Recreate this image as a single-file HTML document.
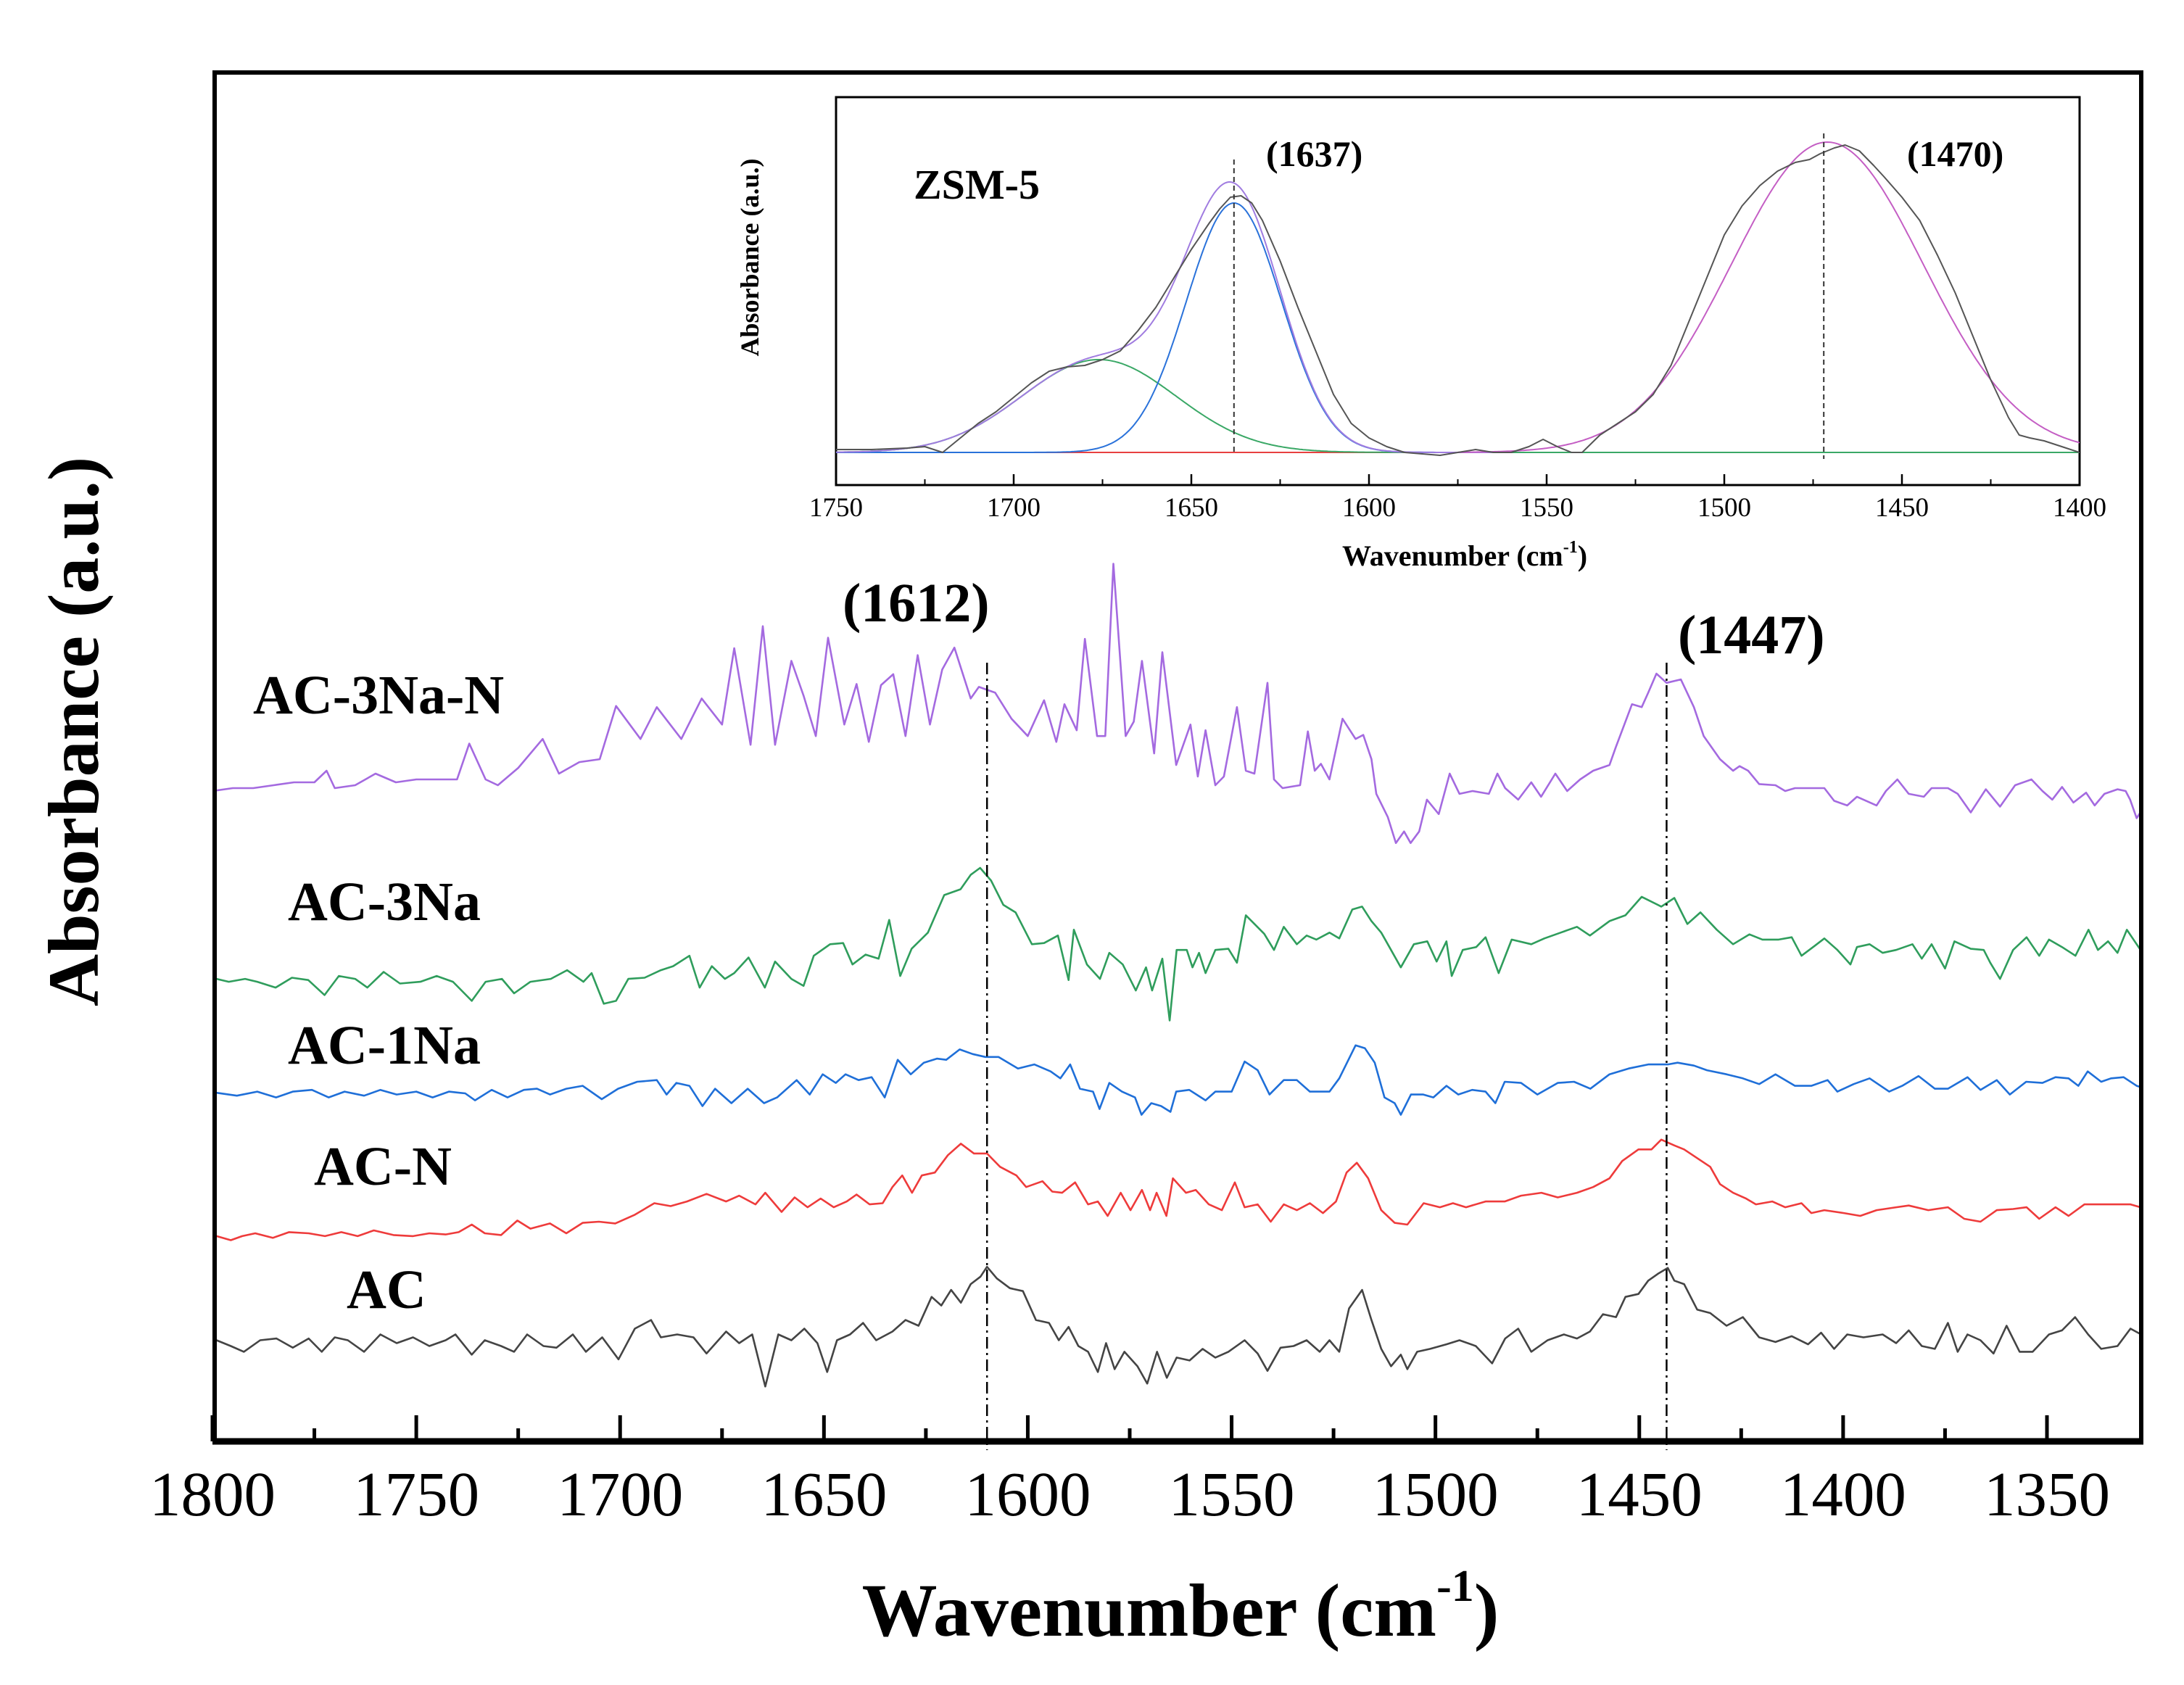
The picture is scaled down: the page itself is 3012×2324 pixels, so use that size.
<!DOCTYPE html>
<html><head><meta charset="utf-8"><style>
html,body{margin:0;padding:0;background:#fff}
svg{display:block}
text{font-family:"Liberation Serif",serif}
</style></head><body>
<svg id="chart" width="3012" height="2324" viewBox="0 0 3012 2324" xmlns="http://www.w3.org/2000/svg">
<rect width="3012" height="2324" fill="#fff"/>
<defs><clipPath id="mainClip"><rect x="296" y="100" width="2657" height="1888"/></clipPath>
<clipPath id="insetClip"><rect x="1153" y="134" width="1715" height="535"/></clipPath></defs>
<g id="main"></g>
<g id="inset"></g>
</svg>
<script>
const NS="http://www.w3.org/2000/svg";
const xTicks=[1800,1750,1700,1650,1600,1550,1500,1450,1400,1350];
const xMinor=[1775,1725,1675,1625,1575,1525,1475,1425,1375];
const peakLines=[1610,1443.3];
const peakLabels=["(1612)","(1447)"];
const seriesNames=["AC-3Na-N","AC-3Na","AC-1Na","AC-N","AC"];
const seriesColors=["#a46ae0","#2f9d5c","#1f6fd8","#ee3b3b","#444444"];
const purpleWn=[1800,1795,1790,1785,1780,1775,1772,1770,1765,1760,1755,1750,1745,1740,1737,1733,1730,1725,1719,1715,1710,1705,1701,1695,1691,1685,1680,1675,1672,1668,1665,1662,1658,1655,1652,1649,1645,1642,1639,1636,1633,1630,1627,1624,1621,1618,1614,1612,1608,1604,1600,1596,1593,1591,1588,1586,1583,1581,1579,1576,1574,1572,1569,1567,
1563.6,1560.1,1558.3,1556.4,1554,1551.9,1548.7,1546.5,1544.4,1541.2,1539.6,1537.5,1533.2,1531.3,1529.6,1528.1,1526,1522.8,1519.6,1517.7,1515.7,1514.5,1511.7,1509.7,1507.7,1506.1,1504,1502.1,1499.2,1496.5,1494.1,1490.9,1486.9,1484.8,1482.9,1479.7,1476.5,1474.1,1470.6,1467.7,1464.5,1461.3,1457.3,1455.8,1451.8,1449.4,1447.8,1445.8,1443.3,1439.8,1436.6,1434.2,1430.2,1427,1425.4,1423.3,1420.6,1416.6,1414.2,1411.8,1407.8,1404.6,1402.2,1399,1396.6,1391.8,1389.5,1386.7,1383.9,1380.2,1378.3,1374.3,1371.9,1368.7,1365,1361.5,1357.8,1353.8,1351.1,1348.7,1346.3,1343.5,1340.4,1338.3,1335.9,1332.7,1330.7,1329.6,1328,1326.4,1325.4];
const purpleVal=[113.5,114,114,114.5,115,115,117,114,114.5,116.5,115,115.5,115.5,115.5,121.7,115.5,114.5,117.5,122.5,116.5,118.5,119,128.2,122.5,128,122.5,129.5,125,138.2,121.5,142,121.5,136,130,123,140,125,132,122,131.8,133.7,123,137,125,134.5,138.3,129.5,131.5,130.5,126,123,129.2,122,128.5,124,139.8,123,123,152.8,123,125.5,136,120,137.5,
118,125,116,124,114.5,116,128,117,116.5,132.2,115.5,114,114.5,123.8,117,118.2,115.5,126,122.5,123.2,119,113,109,104.5,106.5,104.5,106.5,112,109.5,116.5,113,113.5,113,116.5,114,112,115,112.5,116.5,113.5,115.5,117,118,121,128.5,128,130.5,133.8,132.2,132.8,128,123,119,117,117.8,117,114.7,114.5,113.5,114,114,114,111.8,111,112.5,111,113.5,115.5,113,112.5,114,114,113,109.8,113.8,110.8,114.5,115.5,113.5,112,114.2,111.5,113.2,111,113,113.8,113.5,112,108.8,110.5,111.5];
const greenData=[[1799,81],[1796,80.5],[1792,81],[1789,80.5],[1784.5,79.5],[1780.5,81.2],[1776.5,80.8],[1772.5,78.2],[1769,81.5],[1765,81],[1762,79.5],[1758,82.2],[1754,80.2],[1749,80.5],[1745,81.5],[1741,80.5],[1736.4,77.2],[1733,80.5],[1729,81],[1726,78.5],[1722,80.5],[1717,81],[1713,82.5],[1709,80.5],[1707,82],[1704,76.7],[1701,77.2],[1698,81],[1694,81.2],[1690,82.5],[1687,83.2],[1683,85],[1680.5,79.5],[1677.5,83.2],[1674.3,81],[1672,82],[1668.5,84.7],[1664.5,79.5],[1662,84],[1658,81],[1655,79.8],[1652.5,85],[1648.5,87],[1645.3,87.2],[1643,83.5],[1639.8,85.2],[1636.6,84.5],[1634,91.2],[1631.3,81.5],[1628.5,86.2],[1624.5,89],[1620.5,95.5],[1616.5,96.5],[1614,99],[1611.7,100.2],[1609,98],[1606,93.8],[1603,92.5],[1599,87],[1596,87.2],[1592.6,88.5],[1590,80.8],[1588.7,89.5],[1585.5,83.5],[1582.3,81],[1580,85.5],[1576.7,83.5],[1573.5,79],[1571,83],[1569.5,79],[1567,84.5],[1565.2,73.8],[1563.5,86],[1561,86],[1559.6,83],[1558,85.5],[1556.4,82],[1554,86],[1550.8,86.2],[1548.7,83.8],[1546.5,92],[1542,88.8],[1539.6,86],[1537.2,90],[1534,87],[1531.6,88.5],[1529.2,87.8],[1526,89],[1523.6,88],[1520.4,93],[1518,93.5],[1515.7,91],[1513.3,89],[1510.9,86],[1508.5,83],[1505.3,87],[1502,87.5],[1499.7,84],[1497.3,87.5],[1496,81.5],[1493.3,86],[1490,86.5],[1487.7,88.2],[1484.5,82],[1481.3,87.8],[1476.5,87],[1473.3,88],[1469.3,89],[1465.3,90],[1462.1,88.5],[1457.3,91],[1453.4,92],[1449.4,95.2],[1444.6,93.5],[1441.4,95],[1438.2,90.5],[1435,92.5],[1431,89.5],[1427,87],[1423,88.7],[1419.8,87.8],[1415.8,87.8],[1412.6,88.2],[1410.2,85],[1407,86.7],[1404.6,88],[1401.4,86],[1398.2,83.5],[1396.6,86.5],[1393.5,87],[1390.3,85.5],[1387,86],[1383,87],[1380.7,84.5],[1378.3,87],[1375,82.8],[1372.7,87.5],[1368.7,86.2],[1365.5,86],[1363.9,83.8],[1361.5,81],[1358.3,86],[1355,88.2],[1351.9,85],[1349.5,87.8],[1346.3,86.5],[1343,85],[1339.8,89.5],[1337.5,86],[1335,87.5],[1332.7,85.5],[1330.4,89.5],[1328,87],[1325.6,84.5]];
const blueData=[[1799,61.3],[1794,60.8],[1789,61.5],[1784.4,60.5],[1780.3,61.5],[1775.6,61.8],[1771.5,60.5],[1767.6,61.5],[1762.8,60.8],[1758.8,61.8],[1754.8,61],[1750,61.5],[1746,60.5],[1742,61.5],[1738,61.2],[1735.6,60],[1731.5,61.8],[1727.6,60.5],[1723.6,61.8],[1720.4,62],[1717.2,61],[1713.2,62],[1709.2,62.5],[1704.5,60.2],[1700.5,62],[1695.8,63.2],[1691,63.5],[1688.6,61],[1686.2,63],[1683,62.5],[1679.8,59],[1676.7,62],[1672.7,59.5],[1668.7,62],[1664.7,59.5],[1661.5,60.5],[1656.7,63.5],[1653.5,61],[1650.3,64.5],[1647.1,63],[1644.7,64.5],[1641.5,63.5],[1638.3,64],[1635.1,60.5],[1631.9,67],[1628.7,64.5],[1625.5,66.5],[1622.3,67.2],[1620,67],[1616.7,68.8],[1613.5,68],[1610.4,67.5],[1607.2,67.5],[1602.4,65.5],[1598.4,66.2],[1594.4,65],[1592,63.8],[1589.6,66.2],[1587.2,62],[1584,61.5],[1582.4,58.5],[1580,63],[1576.9,61.5],[1573.7,60.5],[1572.1,57.5],[1569.7,59.5],[1567.3,59],[1565,58],[1563.6,61.5],[1560.4,61.8],[1556.4,60],[1554,61.5],[1550,61.5],[1546.8,66.7],[1543.6,65.2],[1540.7,61],[1537.2,63.5],[1534,63.5],[1530.8,61.5],[1526,61.5],[1523.6,63.8],[1519.6,69.5],[1517.3,69],[1514.9,66.5],[1512.5,60.5],[1510,59.5],[1508.5,57.5],[1506,61],[1503,61],[1500.5,60.5],[1497.3,62.5],[1494.4,61],[1491,61.8],[1487.7,61.5],[1485.3,59.5],[1483,63.2],[1479,63],[1475,61],[1470,63],[1466,63.2],[1462,62],[1457.3,64.5],[1452.6,65.5],[1447.8,66.2],[1443,66.2],[1440.6,66.5],[1436.6,66],[1433.4,65.2],[1428.6,64.5],[1424.6,63.8],[1420.6,62.8],[1416.6,64.5],[1411.8,62.5],[1407.8,62.5],[1403.8,63.5],[1401.4,61.5],[1397.4,62.8],[1393.5,63.8],[1388.7,61.5],[1385.5,62.5],[1381.5,64.2],[1377.5,62],[1374.3,62],[1369.5,64],[1366.3,61.8],[1362.3,63.5],[1359.1,61],[1355.1,63.2],[1351.1,63],[1347.9,64],[1344.7,63.8],[1342.3,62.5],[1340,65],[1336.7,63.2],[1334.3,63.8],[1331.2,64],[1328,62.5],[1325.6,62]];
const redData=[[1799,36.5],[1795.5,35.8],[1792.7,36.5],[1789.5,37],[1785.2,36.2],[1781.2,37.2],[1776.4,37],[1772.4,36.5],[1768.4,37.2],[1764.4,36.5],[1760.4,37.5],[1755.6,36.7],[1750.8,36.5],[1746.8,37],[1742.8,36.8],[1739.6,37.2],[1736.4,38.5],[1733.2,37],[1729.2,36.7],[1725.2,39.2],[1722,37.8],[1717.2,38.7],[1713.2,37],[1709.2,38.8],[1705.2,39],[1701.2,38.7],[1696.4,40.2],[1691.6,42.2],[1687.6,41.7],[1683.6,42.5],[1678.8,43.8],[1674,42.5],[1670.8,43.5],[1666.8,42],[1664.4,44],[1660.4,40.7],[1657.2,43.2],[1654,41.5],[1650.8,43],[1647.6,41.5],[1644.4,42.5],[1642,43.7],[1638.8,42],[1635.6,42.2],[1633.2,45],[1630.8,47],[1628.4,44],[1626,47],[1622.8,47.5],[1619.6,50.5],[1616.4,52.5],[1613.2,50.8],[1610,50.8],[1606.8,48.5],[1602.8,47],[1600.4,45],[1596.4,46],[1594,44.2],[1591.6,44],[1588.4,45.8],[1585.2,42],[1582.8,42.5],[1580.4,40],[1577.2,44],[1574.8,41],[1572,44.5],[1570,41],[1568.4,44],[1566,40],[1564.4,46.5],[1561.2,44],[1558.8,44.5],[1555.6,42],[1552.4,41],[1549.2,45.8],[1546.8,41.5],[1543.6,42],[1540.4,39],[1537.2,42],[1534,41],[1530.8,42.2],[1527.6,40.5],[1524.4,42.5],[1521.8,47.5],[1519.3,49.2],[1516.5,46.5],[1513.3,41],[1510,38.8],[1506.9,38.5],[1502.9,42.2],[1498.9,41.5],[1495.7,42.2],[1492.5,41.5],[1487.7,42.5],[1483,42.5],[1479,43.5],[1474,44],[1470,43.2],[1465.3,44],[1461.3,45],[1457.3,46.5],[1454.2,49.5],[1450.2,51.5],[1447,51.5],[1444.6,53.2],[1441.4,52.2],[1439,51.5],[1435.8,50],[1432.6,48.5],[1430.2,45.5],[1427,44],[1423.8,43],[1421.4,42],[1417.4,42.5],[1414.2,41.5],[1410.2,42.2],[1407.8,40.5],[1404.6,41],[1399.8,40.5],[1395.8,40],[1391.8,41],[1387,41.5],[1383.9,41.8],[1379.1,41],[1374.3,41.5],[1370.3,39.5],[1366.3,39],[1362.3,41],[1358.3,41.2],[1355,41.5],[1351.9,39.5],[1347.9,41.5],[1344.7,40],[1340.8,42],[1336.7,42],[1332.7,42],[1329.5,42],[1325.6,41.2]];
const blackData=[[1799,18.5],[1795.5,17.5],[1792.3,16.5],[1788.3,18.5],[1784.3,18.8],[1780.3,17.2],[1776.4,18.8],[1773.2,16.5],[1770,19],[1766.8,18.5],[1762.8,16.5],[1758.8,19.5],[1754.8,18],[1750.8,19],[1746.8,17.5],[1742.8,18.5],[1740.4,19.5],[1736.4,16],[1733.2,18.5],[1729.2,17.5],[1726,16.5],[1722.8,19.5],[1718.8,17.5],[1715.6,17.2],[1711.6,19.5],[1708.4,16.5],[1704.4,19],[1700.4,15.2],[1696.4,20.5],[1692.4,22],[1690,19],[1686,19.5],[1682,19],[1678.8,16.2],[1674,20],[1670.8,18],[1667.6,19.5],[1664.4,10.5],[1661.2,19.5],[1658,18.5],[1654.8,20.5],[1651.6,18],[1649.2,13],[1646.8,18.5],[1643.6,19.5],[1640.4,21.5],[1637.2,18.5],[1633.2,20],[1630,22],[1626.8,21],[1623.6,26],[1621.2,24.5],[1618.8,27.2],[1616.4,25],[1614,28.2],[1611.6,29.5],[1610,31.2],[1607.6,29.2],[1604.4,27.5],[1601.2,27],[1598,22],[1594.8,21.5],[1592.4,18.5],[1590,20.8],[1587.6,17.5],[1585.2,16.5],[1582.8,13],[1580.8,18],[1578.7,13.5],[1576.3,16.5],[1573.1,14],[1570.7,11],[1568.3,16.5],[1565.9,12],[1563.5,15.5],[1560.3,15],[1557.1,17],[1554,15.5],[1550.8,16.5],[1546.8,18.5],[1543.6,16.2],[1541.2,13.2],[1538,17.2],[1534.8,17.5],[1531.6,18.5],[1528.4,16.5],[1526,18.5],[1523.6,16.5],[1521.2,24],[1518,27.2],[1515.7,22],[1513.3,17],[1510.9,14],[1508.5,16],[1506.9,13.5],[1504.5,16.5],[1501.3,17],[1497.3,17.8],[1494.1,18.5],[1490.1,17.5],[1486.1,14.5],[1482.9,18.8],[1479.7,20.5],[1476.5,16.5],[1472.5,18.5],[1468.5,19.5],[1465.3,18.8],[1462.1,20],[1458.9,23],[1455.7,22.5],[1453.4,26],[1450.2,26.5],[1447.8,28.8],[1445.4,30],[1443,31],[1441.4,28.8],[1439,28.2],[1435.8,23.8],[1432.6,23.2],[1428.6,21],[1424.6,22.5],[1420.6,19],[1416.6,18.2],[1412.6,19.2],[1408.6,17.8],[1405.4,19.8],[1402.2,17],[1399,19.5],[1395,19],[1390.3,19.5],[1387,18],[1383.9,20.2],[1380.7,17.5],[1377.5,17],[1374.3,21.5],[1371.9,16.5],[1369.5,19.5],[1366.3,18.5],[1363.1,16.2],[1359.9,21],[1356.7,16.5],[1353.5,16.5],[1349.5,19.5],[1346.3,20.2],[1343.1,22.5],[1339.9,19.5],[1336.7,17],[1332.7,17.5],[1329.5,20.5],[1325.6,19]];
const labelX=[349,397,397,433,478];
const labelY=[984,1269,1467,1634,1804];

// inset data
const insetTicks=[1750,1700,1650,1600,1550,1500,1450,1400];
const insetMinor=[1725,1675,1625,1575,1525,1475,1425];
const compCenters=[1676,1638,1471];
const compAmps=[0.32,0.86,1.07];
const compSigmas=[21.7,13.4,27];
const insetLines=[1638,1472];
const insetRawWn=[1750,1740,1730,1725,1720,1715,1710,1705,1700,1695,1690,1685,1680,1675,1670,1665,1660,1655,1650,1645,1642,1639,1636,1633,1630,1625,1620,1615,1610,1605,1600,1595,1590,1580,1570,1565,1560,1555,1551,1547,1543,1540,1535,1530,1525,1520,1515,1510,1505,1500,1495,1490,1485,1480,1476,1473,1469,1466,1462,1458,1455,1450,1445,1440,1435,1430,1425,1420,1417,1414,1410,1405,1400];
const insetRawVal=[0.01,0.01,0.015,0.02,0.0,0.05,0.1,0.14,0.19,0.24,0.28,0.295,0.3,0.32,0.35,0.42,0.5,0.6,0.7,0.79,0.84,0.88,0.885,0.86,0.8,0.66,0.5,0.35,0.2,0.1,0.05,0.02,0.0,-0.01,0.01,0.0,0.0,0.02,0.045,0.02,0.0,0.0,0.06,0.1,0.14,0.2,0.3,0.45,0.6,0.75,0.85,0.92,0.97,1.0,1.01,1.03,1.05,1.06,1.04,0.99,0.95,0.88,0.8,0.68,0.55,0.4,0.25,0.12,0.06,0.05,0.04,0.02,0.0];

function el(tag,attrs,parent,txt){const e=document.createElementNS(NS,tag);for(const k in attrs)e.setAttribute(k,attrs[k]);if(txt!==undefined)e.textContent=txt;parent.appendChild(e);return e;}
const mx=w=>293+(1800-w)*5.6222;
const my=a=>1996-a*7.974;
const ix=w=>1153+(1750-w)/350*1715;
const iy=v=>624-v*400;

const main=document.getElementById('main');
const sg=el('g',{'clip-path':'url(#mainClip)'},main);


const allSeries=[purpleWn.map((w,i)=>[w,purpleVal[i]]),greenData,blueData,redData,blackData];
allSeries.forEach((d,i)=>{
  const p=el('path',{d:d.map((q,j)=>(j?'L':'M')+mx(q[0]).toFixed(1)+' '+my(q[1]).toFixed(1)).join(''),fill:'none',stroke:seriesColors[i],'stroke-width':2.6,'stroke-linejoin':'round'},sg);
  
  
  const t=el('text',{x:labelX[i],y:labelY[i],'font-size':76,'font-weight':'bold',fill:'#000'},main,seriesNames[i]);
  
  
});
peakLines.forEach((w,i)=>{
  const l=el('line',{x1:mx(w),x2:mx(w),y1:914,y2:2000,stroke:'#000','stroke-width':2.5,'stroke-dasharray':'16,6,3,6'},main);
  
  
});
const pl1=el('text',{x:1162,y:857,'font-size':76,'font-weight':'bold'},main,peakLabels[0]);


const pl2=el('text',{x:2314,y:901,'font-size':76,'font-weight':'bold'},main,peakLabels[1]);


const fr=el('rect',{x:296,y:100,width:2657,height:1888,fill:'none',stroke:'#000','stroke-width':6},main);


const bax=el('line',{x1:293,x2:2956,y1:1988,y2:1988,stroke:'#000','stroke-width':9},main);


xTicks.forEach(w=>{
  const t=el('line',{x1:mx(w),x2:mx(w),y1:1988,y2:1952,stroke:'#000','stroke-width':5},main);
  
  
  const lb=el('text',{x:mx(w),y:2090,'font-size':87,'text-anchor':'middle'},main,String(w));
  
  
});
xMinor.forEach(w=>{
  const t=el('line',{x1:mx(w),x2:mx(w),y1:1988,y2:1970,stroke:'#000','stroke-width':5},main);
  
  
});
const xt=el('text',{x:1628,y:2256,'font-size':104,'font-weight':'bold','text-anchor':'middle'},main);


el('tspan',{},xt,'Wavenumber (cm');
el('tspan',{'font-size':62,dy:-48},xt,'-1');
el('tspan',{dy:48},xt,')');
const yt=el('text',{x:0,y:0,'font-size':100,'font-weight':'bold','text-anchor':'middle',transform:'translate(135,1009) rotate(-90)'},main,'Absorbance (a.u.)');



const inset=document.getElementById('inset');
const ib=el('rect',{x:1153,y:134,width:1715,height:535,fill:'#fff',stroke:'#000','stroke-width':3},inset);


const ig=el('g',{'clip-path':'url(#insetClip)'},inset);


const gauss=(k,w)=>compAmps[k]*Math.exp(-Math.pow(w-compCenters[k],2)/(2*compSigmas[k]*compSigmas[k]));
const curve=(f,a,b)=>{let s='';for(let w=a;w>=b;w-=0.5){s+=(w===a?'M':'L')+ix(w).toFixed(1)+' '+iy(f(w)).toFixed(1);}return s;};
const baseL=el('path',{d:curve(()=>0,1750,1400),stroke:'#e84040','stroke-width':2,fill:'none'},ig);


const gC=el('path',{d:curve(w=>gauss(0,w),1750,1400),stroke:'#3aa866','stroke-width':2,fill:'none'},ig);


const bC=el('path',{d:curve(w=>gauss(1,w),1750,1560),stroke:'#2a72da','stroke-width':2,fill:'none'},ig);


const sC=el('path',{d:curve(w=>gauss(0,w)+gauss(1,w),1750,1560),stroke:'#a07ce0','stroke-width':2,fill:'none'},ig);


const mC=el('path',{d:curve(w=>gauss(2,w),1575,1400),stroke:'#c45ec4','stroke-width':2,fill:'none'},ig);


const rC=el('path',{d:insetRawWn.map((w,i)=>(i?'L':'M')+ix(w).toFixed(1)+' '+iy(insetRawVal[i]).toFixed(1)).join(''),stroke:'#555','stroke-width':2,fill:'none','stroke-linejoin':'round'},ig);


insetLines.forEach((w,i)=>{
  const l=el('line',{x1:ix(w),x2:ix(w),y1:i?184:220,y2:i?633:624,stroke:'#333','stroke-width':2,'stroke-dasharray':'7,5'},inset);
  
  
});
insetTicks.forEach(w=>{
  const t=el('line',{x1:ix(w),x2:ix(w),y1:669,y2:654,stroke:'#000','stroke-width':2.5},inset);
  
  
  const lb=el('text',{x:ix(w),y:712,'font-size':37,'text-anchor':'middle'},inset,String(w));
  
  
});
insetMinor.forEach(w=>{
  const t=el('line',{x1:ix(w),x2:ix(w),y1:669,y2:661,stroke:'#000','stroke-width':2},inset);
  
  
});
const ixt=el('text',{x:2020,y:780,'font-size':40,'font-weight':'bold','text-anchor':'middle'},inset);


el('tspan',{},ixt,'Wavenumber (cm');
el('tspan',{'font-size':24,dy:-18},ixt,'-1');
el('tspan',{dy:18},ixt,')');
const iyt=el('text',{x:0,y:0,'font-size':36,'font-weight':'bold','text-anchor':'middle',transform:'translate(1046,355) rotate(-90)'},inset,'Absorbance (a.u.)');


const zl=el('text',{x:1260,y:274,'font-size':58,'font-weight':'bold'},inset,'ZSM-5');


const p1=el('text',{x:1746,y:229,'font-size':50,'font-weight':'bold'},inset,'(1637)');


const p2=el('text',{x:2630,y:229,'font-size':50,'font-weight':'bold'},inset,'(1470)');


</script>
</body></html>
